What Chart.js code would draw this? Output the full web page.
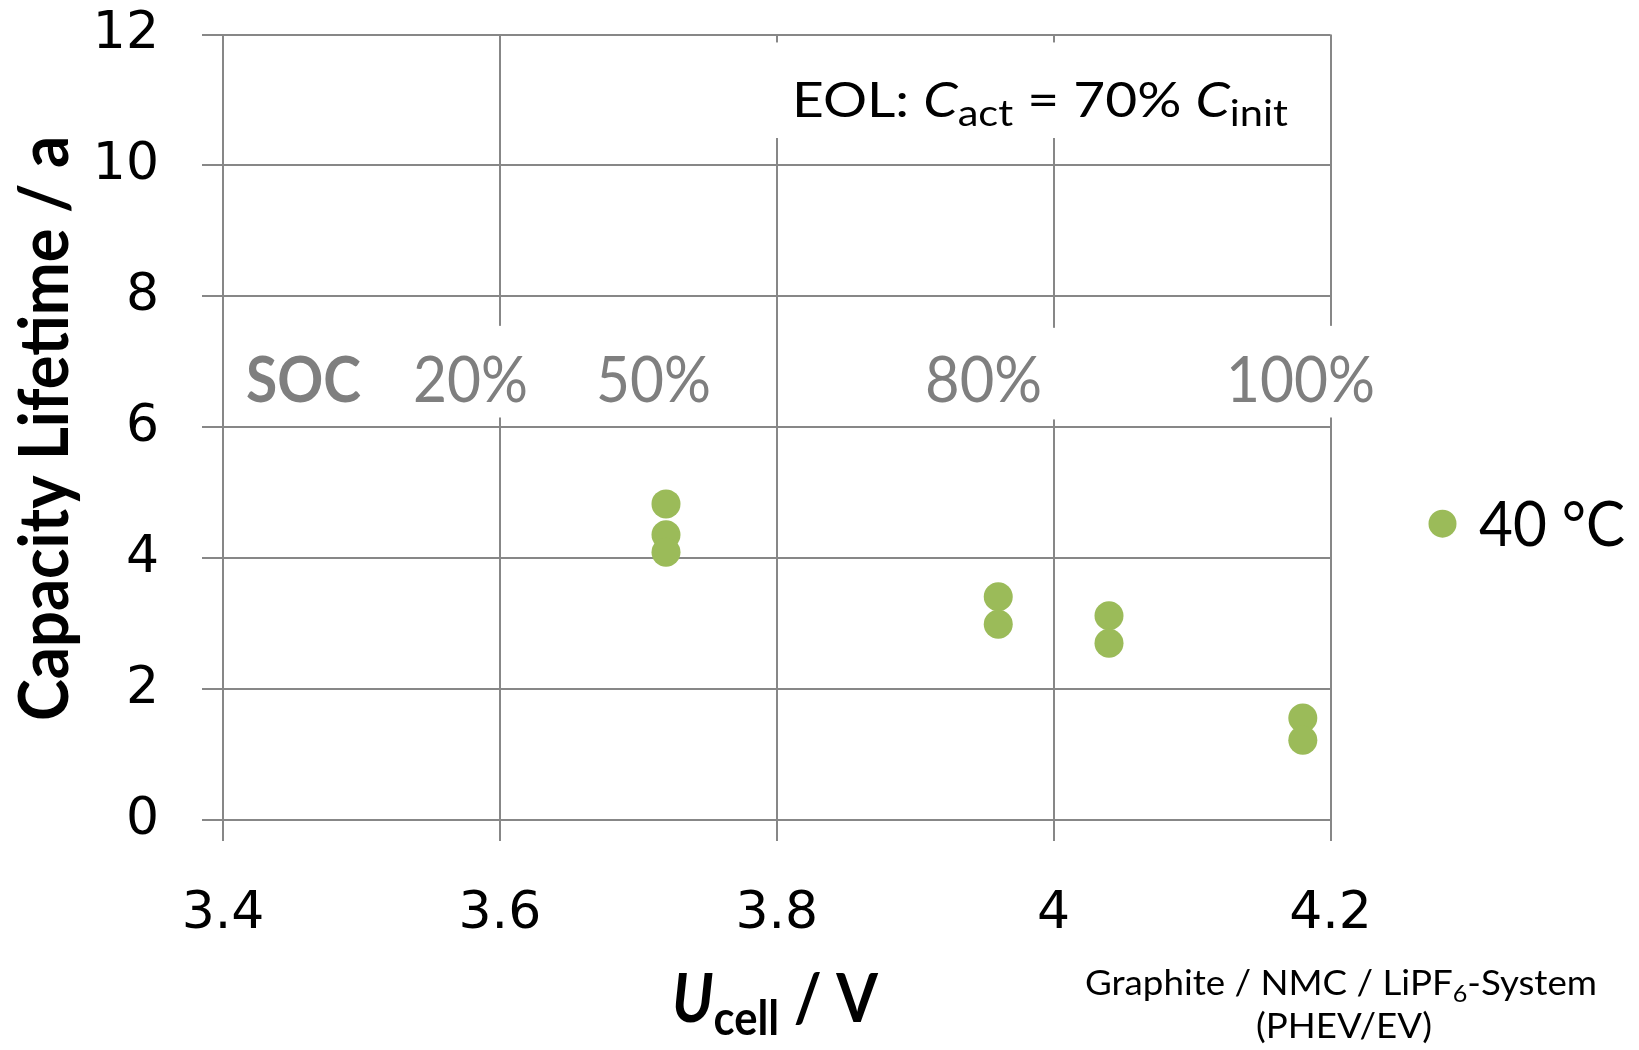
<!DOCTYPE html>
<html>
<head>
<meta charset="utf-8">
<script src="https://cdn.jsdelivr.net/npm/chart.js@4/dist/chart.umd.min.js"></script>
<style>
html,body{margin:0;padding:0;background:#fff;}
#wrap{width:1639px;height:1050px;position:relative;}
</style>
</head>
<body>
<div id="wrap"><canvas id="c" width="1639" height="1050"></canvas></div>
<script>
// ---- data ----
const cellVoltage = [3.72, 3.72, 3.72, 3.96, 3.96, 4.04, 4.04, 4.18, 4.18];
const capacityLifetime = [4.83, 4.36, 4.09, 3.41, 2.99, 3.12, 2.70, 1.56, 1.22];
const seriesLabel = '40 °C';
const xTickLabels = ['3.4', '3.6', '3.8', '4', '4.2'];
const yTickLabels = ['0', '2', '4', '6', '8', '10', '12'];
const socLabels = ['SOC', '20%', '50%', '80%', '100%'];

const GREEN = '#9BBB59';
const GRID = '#878787';
const GRAYTXT = '#7F7F7F';

function drawRuns(ctx, runs, x, y, align, targetW) {
  let total = 0;
  for (const r of runs) { ctx.font = r.font; r.w = ctx.measureText(r.text).width; total += r.w; }
  const sx = targetW ? targetW / total : 1;
  const w = total * sx;
  let start = align === 'center' ? x - w / 2 : (align === 'right' ? x - w : x);
  ctx.save();
  ctx.translate(start, y);
  ctx.scale(sx, 1);
  ctx.textBaseline = 'alphabetic';
  ctx.textAlign = 'left';
  let cx = 0;
  for (const r of runs) {
    ctx.font = r.font;
    ctx.fillStyle = r.color || '#000';
    ctx.fillText(r.text, cx, r.dy || 0);
    cx += r.w;
  }
  ctx.restore();
}

const annotations = {
  id: 'annotations',
  afterDatasetsDraw(chart) {
    const ctx = chart.ctx;
    const xs = chart.scales.x, ys = chart.scales.y;
    const px = v => xs.getPixelForValue(v), py = v => ys.getPixelForValue(v);
    ctx.save();
    // white text boxes (cover gridlines like the original text boxes)
    ctx.fillStyle = '#fff';
    const boxes = [
      [3.795, 4.192, 11.88, 10.42],
      [3.5315, 3.6254, 7.55, 6.15],
      [3.8999, 4.0082, 7.52, 6.12],
      [4.1166, 4.2394, 7.55, 6.15]
    ];
    for (const b of boxes) {
      ctx.fillRect(px(b[0]), py(b[2]), px(b[1]) - px(b[0]), py(b[3]) - py(b[2]));
    }
    // EOL text
    drawRuns(ctx, [
      {text: 'EOL: ', font: '49px Lato'},
      {text: 'C', font: 'italic 49px Lato'},
      {text: 'act', font: '37px Lato', dy: 9},
      {text: ' = 70% ', font: '49px Lato'},
      {text: 'C', font: 'italic 49px Lato'},
      {text: 'init', font: '37px Lato', dy: 9}
    ], px(3.811), py(10.74), 'left', 496);
    // SOC labels
    const socX = [3.4581, 3.5788, 3.7110, 3.9494, 4.1783];
    const socW = [115, 115, 115, 117, 149];
    socLabels.forEach((t, i) => {
      drawRuns(ctx, [{text: t, font: (i === 0 ? 'bold ' : '') + '63px Lato', color: GRAYTXT}],
        px(socX[i]), py(6.38), 'center', socW[i]);
    });
    ctx.restore();
  },
  afterDraw(chart) {
    const ctx = chart.ctx;
    ctx.save();
    // legend
    ctx.fillStyle = GREEN;
    ctx.beginPath();
    ctx.arc(1442.5, 523.7, 14, 0, Math.PI * 2);
    ctx.fill();
    drawRuns(ctx, [{text: seriesLabel, font: '61px Lato'}], 1479, 545.6, 'left', 146);
    // y-axis title
    ctx.save();
    ctx.translate(68, 428.5);
    ctx.rotate(-Math.PI / 2);
    drawRuns(ctx, [{text: 'Capacity Lifetime / a', font: 'bold 68px Lato'}], 0, 0, 'center', 585);
    ctx.restore();
    // x-axis title
    drawRuns(ctx, [
      {text: 'U', font: 'bold italic 66px Lato'},
      {text: 'cell', font: 'bold 48px Lato', dy: 13},
      {text: ' / V', font: 'bold 66px Lato'}
    ], 775, 1022, 'center', 206);
    // system note
    drawRuns(ctx, [
      {text: 'Graphite / NMC / LiPF', font: '35px Lato'},
      {text: '6', font: '24px Lato', dy: 7},
      {text: '-System', font: '35px Lato'}
    ], 1341, 995, 'center', 512);
    drawRuns(ctx, [{text: '(PHEV/EV)', font: '35px Lato'}], 1344, 1038, 'center', 176);
    ctx.restore();
  }
};

new Chart(document.getElementById('c'), {
  type: 'scatter',
  data: {
    datasets: [{
      label: seriesLabel,
      data: cellVoltage.map((x, i) => ({x: x, y: capacityLifetime[i]})),
      backgroundColor: GREEN,
      borderWidth: 0,
      pointRadius: 14.5,
      pointHoverRadius: 14.5,
      pointStyle: 'circle'
    }]
  },
  options: {
    responsive: false,
    animation: false,
    devicePixelRatio: 1,
    layout: {padding: {left: 0, right: 308.5, top: 34.6, bottom: 0}},
    plugins: {legend: {display: false}, tooltip: {enabled: false}},
    scales: {
      x: {
        type: 'linear', min: 3.4, max: 4.2,
        afterFit: s => { s.height = 230; s.paddingLeft = 0; s.paddingRight = 0; },
        afterBuildTicks: s => { s.ticks = xTickLabels.map(Number).map(v => ({value: v})); },
        ticks: {
          callback: (v, i) => xTickLabels[i],
          font: {family: 'DejaVu Sans', size: 52}, color: '#000', padding: 42, maxRotation: 0
        },
        grid: {color: GRID, lineWidth: 2, tickLength: 21, drawTicks: true},
        border: {color: GRID, width: 2}
      },
      y: {
        type: 'linear', min: 0, max: 12,
        afterFit: s => { s.width = 223; s.paddingTop = 0; s.paddingBottom = 0; },
        afterBuildTicks: s => { s.ticks = yTickLabels.map(Number).map(v => ({value: v})); },
        ticks: {
          callback: (v, i) => yTickLabels[i],
          font: {family: 'DejaVu Sans', size: 52}, color: '#000', padding: 43
        },
        grid: {color: GRID, lineWidth: 2, tickLength: 21, drawTicks: true},
        border: {color: GRID, width: 2}
      }
    }
  },
  plugins: [annotations]
});
</script>
</body>
</html>
